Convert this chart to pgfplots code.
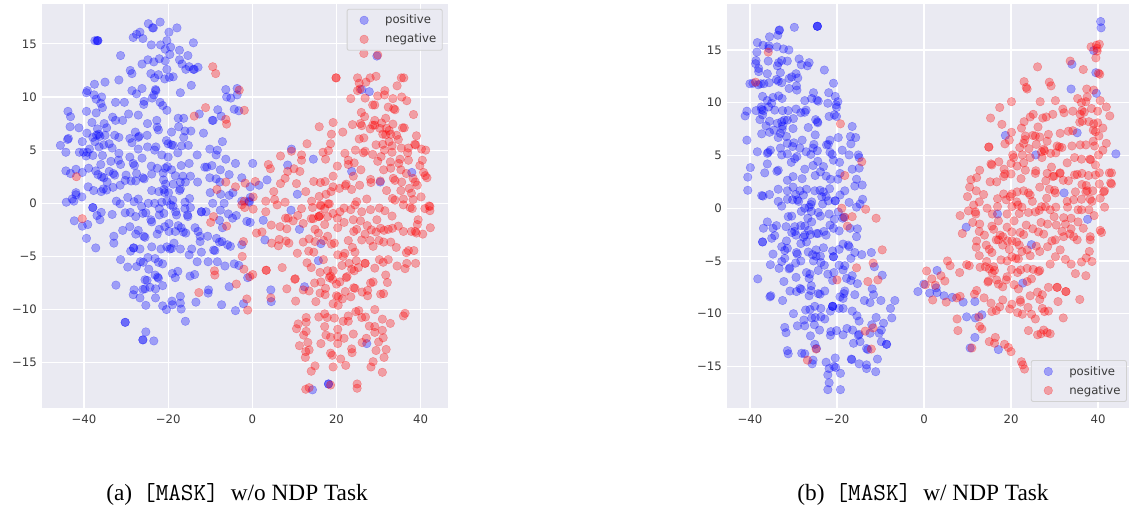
\documentclass[border=0pt]{standalone}
\usepackage{fontspec}
\setmainfont{DejaVu Sans}
\newfontfamily\capfont{Liberation Serif}
\usepackage{pgfplots}
\pgfplotsset{compat=1.18}
\definecolor{sbbg}{HTML}{EAEAF2}
\definecolor{sbtx}{HTML}{3A3A3A}
\pgfplotsset{
  sns/.style={
    scale only axis,
    anchor=south west,
    axis background/.style={fill=sbbg},
    axis line style={draw=none},
    grid=major,
    major grid style={white,line width=1.2pt},
    major tick length=0pt,
    tick style={draw=none},
    xtick={-40,-20,0,20,40},
    xticklabels={−40,−20,0,20,40},
    ytick={-15,-10,-5,0,5,10,15},
    yticklabels={−15,−10,−5,0,5,10,15},
    tick label style={font=\fontsize{11.7pt}{13pt}\selectfont,text=sbtx},
    xticklabel style={yshift=-3pt},
    yticklabel style={xshift=-2pt},
    legend cell align=left,
    legend image code/.code={\path[draw=none,fill=none] (0pt,-9.5pt) rectangle (32pt,9.5pt);
      \draw[mark repeat=2,mark phase=2,##1] plot coordinates {(4pt,0pt)(11pt,0pt)(18pt,0pt)};},
    legend style={font=\fontsize{11.7pt}{14pt}\selectfont,text=sbtx,draw=black!18,line width=.9pt,
      fill=sbbg,fill opacity=.8,text opacity=1,rounded corners=2pt,
      inner xsep=6pt,inner ysep=1.5pt,
      nodes={inner sep=0pt}},
  },
  bl/.style={only marks,mark=*,mark size=4.3pt,mark options={draw=blue,line width=.4pt,fill=blue,fill opacity=.32,draw opacity=.32}},
  rd/.style={only marks,mark=*,mark size=4.3pt,mark options={draw=red,line width=.4pt,fill=red,fill opacity=.32,draw opacity=.32}},
}
\begin{document}
\begin{tikzpicture}[x=1pt,y=1pt]
\useasboundingbox (0,0) rectangle (1129,507);
\begin{axis}[sns,at={(42.3pt,99pt)},width=405.7pt,height=404pt,
  xmin=-49.9,xmax=46.5,ymin=-19.26,ymax=18.75,
  legend style={at={(0.987,0.988)},anchor=north east}]
\addplot[bl] coordinates {
(-36.7,15.3)(-36.7,15.3)(-36.9,15.3)(-37.4,15.3)(-24.7,16.9)(-21.9,17.05)(-23.5,16.5)(-23.7,16.5)(-17.9,16.5)(-19.8,16.1)(-26.7,16.1)(-27.5,15.9)(-28.3,15.6)(-26,15.5)(-20.3,15.3)(-24,14.9)(-21.8,14.9)(-20.7,14.5)(-19.4,14.7)(-19.6,14)(-14,15.1)(-17.3,14.4)(-15.3,13.9)(-31.3,13.9)(-24.8,13.5)(-23.4,13.3)(-22.1,13.6)(-20.7,13.4)(-17.3,13.5)(-16.7,13.1)(-26.2,13.1)(-15,12.85)(-15.8,12.6)(-14,12.6)(-13.8,12.6)(-12.9,12.8)(-29,12.5)(-28.6,12.2)(-20.3,12.6)(-24.1,12.2)(-22.3,12.1)(-23.2,11.8)(-20.8,11.7)(-19.7,11.85)(-18.8,11.9)(-31.7,11.6)(-35,11.4)(-37.5,11.2)(-14.5,11.1)(-39.2,10.6)(-39.4,10.4)(-37.6,10.2)(-35.8,10)(-37.1,9.8)(-28.6,10.6)(-27.5,10.3)(-26.2,10.8)(-22.9,10.6)(-23,10.7)(-23.4,10.2)(-23.8,9.9)(-17.1,10.4)(-6.3,10.7)(-6.1,10)(-5.1,9.9)(-3.6,10.2)(-3.6,10.8)(-32.5,9.5)(-30.4,9.5)(-25.7,9.6)(-25.8,9.3)(-36,9.4)(-35.6,9)(-21.9,9.5)(-21.3,9.2)(-20.3,8.75)(-43.8,8.65)(-43.2,8.15)(-39.4,8.65)(-37.1,8.5)(-29.4,8.4)(-27.1,8.3)(-33.2,8.1)(-32.5,7.8)(-30.8,7.8)(-22.7,7.8)(-17.6,8)(-16.3,8)(-12.6,8.4)(-8.2,8.8)(-7.4,8.2)(-9.3,7.8)(-9.5,7.8)(-4.3,8.85)(-3.2,8.7)(-38.1,7.6)(-35.2,7.5)(-34.6,7.1)(-24.9,7.5)(-22.6,7.15)(-22.3,6.9)(-17.5,7.2)(-43.3,7.2)(-41.2,7.1)(-36.8,7)(-27.8,6.7)(-19.2,6.7)(-16,6.8)(-14.6,6.8)(-11.6,6.6)(-39.3,6.6)(-32.7,6.4)(-31.7,6.2)(-36.5,6.5)(-37,6.4)(-36.2,6.3)(-35,6.4)(-29.1,6.1)(-26.9,6.3)(-27.1,6.2)(-25,6.4)(-16.3,6.2)(-43.7,6.1)(-43.9,6)(-37.9,6.2)(-40.4,5.8)(-28.6,5.7)(-37.4,5.8)(-34,5.6)(-35.3,5.5)(-36.4,5.3)(-45.6,5.45)(-20.4,5.9)(-20,5.6)(-19.2,5.5)(-18.8,5.45)(-16.8,5.4)(-15.2,5.45)(-33.3,5.2)(-38.7,5.1)(-27.1,5.1)(-24.9,5.3)(-22.9,5.3)(-23.2,5)(-10.1,5.1)(-8.3,5)(-7.1,5.8)(-44.3,4.8)(-41.1,4.8)(-40.1,4.8)(-39.2,4.8)(-39.5,4.45)(-37.9,4.5)(-35.6,4.5)(-31.7,4.7)(-17.7,4.75)(-21.5,4.55)(-20,4.35)(-13.1,4.55)(-8.6,4.55)(-29.1,4.35)(-26.2,4.25)(-33.6,3.95)(-31.8,4.05)(-31.3,3.65)(-36,3.65)(-28.3,3.75)(-28,3.55)(-6.3,4.15)(-4,3.75)(-16.9,3.55)(-15,3.75)(-24,3.5)(-22.6,3.3)(-20.7,3.3)(-20.2,3.45)(-11.3,3.4)(-10.8,3.4)(-9.6,3.55)(-19.2,3.15)(-7.6,3.15)(-44.3,3.05)(-41.9,3.2)(-43.2,2.8)(-40.4,2.9)(-38.9,3.3)(-37.2,3.05)(-34,3)(-33,2.8)(-32.7,2.65)(-36.7,2.7)(-35.8,2.5)(-35.3,2.4)(-30,2.65)(-27.5,2.8)(-21.2,2.85)(-23.9,2.75)(-18.3,2.6)(-16.5,2.55)(-14.7,2.55)(-5.5,2.7)(-2.5,2.4)(-10.1,2.4)(-8.6,2.3)(-7.7,2)(-26,2.4)(-25.7,2.3)(-30.2,2.15)(-28.8,2.1)(-27.7,2.1)(-34.5,2)(-21.1,2.2)(-20.6,1.8)(-18.8,1.8)(-17.1,2)(-15.9,2)(-13,2)(-31.4,1.7)(-39,1.55)(-33.1,1.5)(-35.4,1.35)(-35.9,1.1)(-34.6,1.25)(-37.7,1.2)(-23.9,1.2)(-22.2,1.1)(-21,1.3)(-20.8,1)(-19.9,1)(-17.1,1.35)(-17.3,1.2)(-41.9,1)(-41.9,.8)(-40.5,.6)(-29.6,.55)(-27.1,.4)(-14.9,.45)(-10,1)(-7.5,.85)(-4.6,1)(-5.5,.75)(-42.8,.4)(-42.4,.2)(-44.2,.1)(-32.3,.2)(-31.4,-.05)(-28.1,.15)(-24.7,0)(-23.2,0)(-21.5,.1)(-20.3,.2)(-18.9,.3)(-16,.1)(-9.4,0)(-6.7,0)(-.5,.55)
(-37.9,-.4)(-37.9,-.4)(-36.9,-1.15)(-35.9,-.85)(-36.2,-1.55)(-42.3,-1.65)(-40.4,-2.15)(-39.1,-2)(-33.3,-1.05)(-30.2,-.9)(-29,-.85)(-27.7,-1.25)(-26.3,-.3)(-25.3,-.9)(-26,-.95)(-24.1,-1.55)(-23.9,-1.75)(-22.1,-1.1)(-21,-.95)(-22.1,-.5)(-19.4,-.15)(-18.8,-.3)(-18.2,-.8)(-18,-1.1)(-16,-.5)(-14.7,-.4)(-15.4,-1.1)(-15.3,-1.25)(-12.1,-.8)(-12.1,-.8)(-11,-.8)(-7.6,-.65)(-7.8,-1.6)(-7.1,-2.3)(-5.7,-1)(-4.7,-1.4)(-3.8,-1.15)(-1.3,-1.7)(-.5,-1.8)(-19.8,-1.9)(-20.8,-2.2)(-22.1,-2.45)(-22.6,-2.9)(-17.6,-2.1)(-16.9,-2.3)(-19.8,-2.65)(-18.3,-2.65)(-16.4,-2.7)(-15.8,-2.8)(-13.6,-2.3)(-12.9,-2.65)(-12.4,-3.1)(-12.4,-3.6)(-10.6,-3.1)(-8.5,-3.3)(-7.8,-3.65)(-7.2,-3.6)(-29.1,-2.2)(-30.8,-2.55)(-32.9,-3.1)(-32.9,-3.75)(-27.1,-2.55)(-27.7,-2.9)(-25.8,-3.1)(-25.5,-3.2)(-39.4,-3.3)(-37.2,-4.2)(-28.9,-4.5)(-28.2,-4.2)(-28.2,-4.2)(-26.7,-4.3)(-23.9,-4.1)(-21.7,-4.3)(-20.3,-4.1)(-19.6,-4.3)(-19.2,-4.25)(-18.6,-3.75)(-17.1,-4.3)(-14.4,-4.3)(-15,-4.85)(-12.1,-4.6)(-9.2,-4.4)(-8.9,-4.45)(-5.9,-3.9)(-5.2,-4.05)(-2.5,-3.9)(-31.3,-5.3)(-29.6,-6)(-27.5,-5.95)(-26.6,-5.5)(-25.9,-5.55)(-24.8,-5.1)(-24.6,-6.2)(-23.1,-5.2)(-22.3,-5.55)(-21.3,-5.7)(-13.1,-5.5)(-10.5,-5.5)(-8.3,-5.5)(-6.5,-5.9)(-4.3,-5.7)(-3.2,-5.85)(-19,-6.6)(-17.7,-6.4)(-18.3,-7)(-14.8,-6.85)(-13.7,-6.7)(-23.1,-6.75)(-22.5,-6.95)(-22.3,-7.05)(-25.5,-7.2)(-25,-7.25)(-1.1,-7)(-32.4,-7.7)(-21.3,-7.75)(-24.3,-7.9)(-25.5,-8.05)(-26,-8.1)(-23,-8.05)(-28.1,-8.15)(-28.3,-8.6)(-26.7,-8.9)(-23,-8.9)(-17.1,-8.75)(-10.4,-8.15)(-10.5,-8.45)(-5.5,-7.85)(-13.4,-9.3)(-19.1,-9.2)(-19,-9.55)(-17.1,-9.4)(-25.3,-9.6)(-21.3,-9.65)(-20.4,-10)(-16.9,-9.95)(-7.3,-9.55)(-2.1,-9.45)(-4,-10.1)(-15.9,-11.1)(-30.2,-11.2)(-30.2,-11.2)(-25.3,-12.1)(-26,-12.85)(-26,-12.85)(-23.4,-12.95)
(29.6,13.85)(26,10.7)(27.8,10.5)(9.3,5.1)(8.4,3.6)(14.5,4.15)(.1,3.75)(3.5,2.2)(1.6,1.7)(-.5,1.55)(10.7,.85)(23.6,3)(37.9,2.9)(30.4,2)(-2.5,.2)(-.8,.2)(-.7,.1)(9.2,-.65)(11.2,-2.45)(2.6,-1.6)(3,-3.45)(16.3,-3.8)(15.7,-5.4)(12.4,-7.85)(4.4,-8.15)(4.5,-9.25)(27.2,-13.2)(18.1,-17)(18.1,-17)(14.3,-17.55)
};
\addlegendentry{positive}
\addplot[rd] coordinates {
(26.5,14.1)(29.8,13.95)(19.9,11.8)(19.9,11.8)(25,11.8)(25.4,11.3)(27,11.4)(28,11.8)(29.4,11.95)(35.4,11.8)(36,11.8)(34.4,11.05)(25,10.6)(25.6,10.75)(31.5,10.6)(31.4,10.2)(29.8,10.1)(26.8,9.9)(23.4,9.85)(33.4,9.85)(35.5,10)(36.7,9.65)(28.6,9.25)(29.1,9.25)(32.3,9.05)(33.6,8.9)(33.9,8.8)(25.9,8.55)(26.7,8.15)(38.3,8.35)(31.7,8)(29.1,7.8)(30.7,7.55)(33.4,7.45)(19.2,7.6)(15.9,7.2)(23.8,7.4)(25.7,7.5)(26,7.3)(28.6,7.35)(29.1,7.35)(28,7)(30.3,7.05)(31.9,7.05)(35.7,7.1)(36.1,7.1)(18.8,6.5)(21.5,6.7)(31,6.5)(32.5,6.85)(31.7,6.45)(32.9,6.5)(34.3,6.4)(34.7,6)(39,6.35)(25.4,6.05)(26.5,6.15)(18.6,5.6)(13,5.6)(29.4,5.5)(31,5.55)(32.5,5.8)(33.2,5.4)(31.4,5)(33.2,4.8)(38.6,5.55)(38.8,5.5)(35.4,5.2)(37.1,5.2)(36.9,4.75)(40.2,5.1)(41.2,5)(9.3,4.9)(16.8,4.8)(18.1,4.95)(22,4.7)(24.5,5)(26.8,4.9)(26.4,4.75)(28.6,4.6)(6.7,4.45)(11.7,4.55)(11.7,4.05)(17.4,4.15)(22.8,4.05)(24.2,3.8)(22.8,3.65)(30.6,4.4)(29.8,3.95)(35.1,4.15)(34.8,3.75)(32.8,3.9)(40.4,4.05)(39.8,3.55)(37.1,4.05)(35.3,3.15)(3.8,3.65)(4.3,3.25)(9.9,3.25)(8.4,3)(11.3,3)(20.2,3.5)(25.8,3.15)(24,2.55)(19.2,2.55)(31.2,3.15)(32.9,3.3)(36.6,2.8)(40.7,2.9)(41.1,2.6)(41.5,2.4)(7.8,2.35)(6.7,1.85)(14.6,2.05)(16.2,1.95)(17.3,2.05)(10.5,1.85)(28.1,2.25)(28.2,1.95)(30.4,2.1)(33.5,2.35)(33.9,2.15)(35.5,2)(38.2,2.35)(39.2,1.7)(38.7,2)(.7,2.05)(-1.7,1.9)(.2,.6)(19.2,1.55)(18.7,1.1)(17.5,.85)(15.9,.65)(22.3,1.8)(22.1,1.65)(20.7,1.4)(23.6,1.3)(25.5,1.7)(27.2,.4)(24.8,.15)(5.1,1.1)(12.7,1.1)(31.9,1.2)(35.3,1.2)(37.3,1.4)(37.8,.95)(5.3,.35)(3.2,.2)(7.8,.1)(5.9,-.15)(14.1,.2)(16.3,-.25)(18.3,-.05)(33.3,.45)(33.9,.3)(35.9,.4)(40.1,.6)(38.2,.35)(42.2,-.3)(42,-.25)
(.2,-.55)(3.2,-.8)(11.7,-.5)(14.3,-.4)(16.2,-.15)(18,-.05)(17.2,-.5)(7.9,-1.4)(8.5,-1.4)(9.7,-1.65)(10.8,-1.15)(4.5,-2.05)(6.6,-2.2)(8.2,-2.4)(12.1,-1.9)(14,-1.45)(14.5,-1.45)(16.1,-1.15)(15.8,-1.25)(15.8,-1.25)(17.2,-2)(14.9,-2.45)(15.7,-2.8)(17.9,-1.25)(19.2,-.95)(20.8,-.8)(21.8,-.45)(20.2,-1.4)(21.8,-1.8)(20.3,-2.3)(24,-1.55)(25.7,-1.65)(23.4,-.6)(24.4,-.15)(26,-.8)(28.1,-.6)(30.2,-.45)(31.5,-.7)(33.2,-1.2)(29.6,-1.55)(27.3,-2.1)(24.8,-2.45)(24.1,-2.65)(28.3,-2.5)(29.4,-2.7)(30.5,-2.35)(31.3,-2.55)(32.3,-2.45)(33.3,-2.35)(34.7,-2.15)(26.8,-2.9)(26,-3.45)(28,-3.5)(30.1,-3.5)(31.2,-3.65)(32.9,-3.65)(34.2,-4.15)(35.9,-2.65)(37.8,-2.65)(39,-2.8)(38.7,-2.65)(40.5,-2.9)(42.3,-2.3)(39.2,-2)(39.4,-1.55)(41,-.5)(42.2,-.7)(37.5,-.4)(38,-.5)(35.9,-.15)(17.9,-3.1)(16.9,-3.5)(14.9,-3.6)(13.5,-3.35)(12.1,-3.65)(19.5,-3.75)(18.8,-3.85)(22.8,-3.5)(6.4,-3.4)(6.2,-4)(8,-3.55)(8.7,-3.75)(4.6,-3.75)(1,-2.8)(2.3,-2.7)(-2.1,-3.6)(-2.4,-5)(10.7,-4.7)(13.4,-4.5)(14.6,-4.6)(23.8,-4.15)(24.4,-4.6)(20.3,-4.85)(22,-4.7)(21.6,-5)(28.7,-4.05)(38.4,-4.45)(37.1,-4.45)(36.6,-4.65)(16.9,-5.3)(13,-5.6)(14,-6.05)(21.3,-5.85)(23,-5.65)(24.7,-5.4)(25.2,-6.05)(26.8,-5.65)(26.8,-5.65)(30.2,-5.3)(31.1,-5.55)(32.3,-5.3)(29.1,-6.1)(34.4,-5.9)(36.3,-6.15)(36.7,-5.65)(38.8,-5.65)(7.1,-6.05)(3.3,-6.3)(3.3,-6.3)(-2,-6.2)(.1,-6.7)(-.6,-6.9)(16.1,-6.5)(17.9,-6.35)(19.2,-6.35)(23.6,-6.2)(24.2,-6.35)(18.6,-6.85)(18.3,-7)(22.3,-7)(22.5,-6.9)(10.2,-7.1)(10.1,-7.15)(31.7,-6.75)(14.8,-7.5)(16.3,-7.4)(20,-7.6)(19.1,-7.15)(20.8,-7.4)(28.1,-7.5)(28.7,-7.4)(32.1,-7.45)(8.2,-8.05)(12.1,-8.15)(13.5,-8.25)(17.4,-8)(16.1,-8.45)(17.3,-8.6)(24.1,-7.95)(24.4,-8)(22.1,-8.3)(26.1,-8.35)(27.4,-8.2)(27.4,-8.7)(30.5,-8.55)(31.2,-8.5)(20,-8.7)(20.4,-8.8)(21.4,-9)(23.4,-8.8)(4.4,-8.9)(10.3,-9.2)(15.1,-9.25)(-1.3,-9)(-1.1,-10.05)(19.2,-9.45)(20.4,-9.6)(29.1,-10)(24.6,-10.2)(25.3,-10.1)(17.2,-10.4)(15.8,-10.7)(17.8,-10.75)(19.5,-10.8)(22.8,-10.6)(21.6,-11.1)(22.8,-11.1)(26,-10.75)(26.9,-10.7)(30.9,-10.9)(32.8,-11.3)(36.3,-10.35)(35.9,-10.6)(12.8,-10.75)(12.8,-11.2)(10.9,-11.35)(10.5,-11.8)(17.2,-11.6)(20.3,-11.85)(27.8,-11.55)(29.1,-11.6)(30.9,-11.95)(29.1,-12.15)(12.8,-12.05)(12.2,-12.4)(24,-12.3)(17.5,-12.4)(18.6,-12.6)(20.3,-12.55)(21.8,-12.7)(31.1,-12.65)(30,-13.05)(26.1,-13.1)(27.1,-12.7)(13.2,-13.1)(16.3,-13.2)(20.3,-13.2)(11.2,-13.4)(13.5,-13.8)(12.7,-13.95)(23.6,-13.7)(23.7,-14.05)(29.4,-13.85)(31.8,-13.75)(18.6,-14.1)(19,-14.3)(12.6,-14.5)(21,-14.65)(31.3,-14.5)(28.7,-14.9)(22.2,-15.25)(28.2,-15.4)(14.9,-15.3)(14,-15.8)(19.2,-15.4)(30.9,-15.9)(24.9,-17)(24.9,-17.4)(18.6,-17.1)(13.5,-17.35)(12.7,-17.5)
(-9.4,12.85)(-8.7,12.2)(-3.1,10.65)(-1.9,8.75)(-11.1,9)(-13.8,8.2)(-6.3,7.9)(-6.1,7.45)(-41.8,2.5)(-6.3,2)(-4,1.55)(-8.4,1.3)(-2.5,-.15)(-40.4,-1.45)(-9.2,-1.25)(-9.9,-1.8)(-6.1,-2.15)(-1.8,-.4)(-9,-6.35)(-8.9,-6.75)(-3.8,-7.6)(-12.7,-8.4)(-1.9,.2)
};
\addlegendentry{negative}
\end{axis}
\begin{axis}[sns,at={(727.3pt,99pt)},width=401.2pt,height=404pt,
  xmin=-45.2,xmax=47,ymin=-18.94,ymax=19.36,
  legend style={at={(0.996,0.015)},anchor=south east}]
\addplot[bl] coordinates {
(-24.5,17.25)(-24.5,17.25)(-24.5,17.25)(-29.8,17.15)(-33.2,16.9)(-33.3,16.85)(-33.6,16.4)(-35.5,16.25)(-38.3,15.7)(-37,15.45)(-35.65,15.4)(-35.65,15.15)(-33.8,15.3)(-32.3,15.1)(-31.05,15)(-38.4,14.8)(-38.6,14)(-38.7,13.7)(-35.8,13.95)(-32.7,14)(-31.4,13.95)(-33.4,13.8)(-33.7,13.5)(-28.7,14.15)(-28.2,13.6)(-26.8,13.5)(-26.4,13.8)(-22.9,13.1)(-38,13.25)(-38,12.95)(-36,12.75)(-33,12.85)(-29.4,12.75)(-30.4,12.45)(-29,12.35)(-31,12.3)(-20.8,11.85)(-33.9,12.2)(-33.5,12.05)(-32.7,11.9)(-35.6,11.9)(-40,11.8)(-39.3,11.85)(-38.1,11.7)(-37.5,11.8)(-36.8,11.8)(-29.3,11.6)(-31,11.35)(-29.2,11.2)(-25.4,10.95)(-21.9,10.95)(-37.1,10.6)(-34.7,10.5)(-33.4,10.65)(-32.6,10.4)(-36,10.2)(-35,9.95)(-27.4,10.2)(-25.8,10.4)(-24.6,10.25)(-24.3,10.15)(-22.1,9.95)(-20.4,10.6)(-19.8,10.1)(-20.2,9.8)(-20.1,9.55)(-40.7,9.2)(-41.1,8.75)(-38.6,9.25)(-37.4,9.6)(-37.3,9.35)(-36.9,9.25)(-37.1,8.85)(-35.7,9.6)(-34.3,9.3)(-32.5,9.25)(-31.2,9.25)(-29.4,9.4)(-28.3,9.05)(-27.1,9.3)(-27.4,9.1)(-21.8,8.7)(-20.6,8.85)(-20.1,8.7)(-30,8.5)(-37.7,8.4)(-35.5,8.25)(-24.9,8.4)(-24.5,8.2)(-24.4,8.1)(-33.7,8.05)(-32.7,8.2)(-32.1,8.35)(-31.4,8.35)(-36.3,7.8)(-32.5,7.8)(-32.6,7.5)(-30.1,7.55)(-26.6,7.65)(-34.5,7.4)(-35.5,7.2)(-16.5,7.75)(-40.7,6.45)(-37.3,7.05)(-33,7.1)(-33.5,6.7)(-31.6,6.8)(-25,6.95)(-19.7,6.7)(-21.6,6.45)(-16.9,6.8)(-15.7,6.7)(-28,6.45)(-16.8,6.1)(-29.9,6.2)(-31.4,6.15)(-25.3,6.05)(-22.4,6)(-22,6.05)(-33,5.7)(-30.2,5.85)(-28.5,5.7)(-25.5,5.7)(-18.8,5.5)(-24.5,5.45)(-27.1,5.35)(-38.3,5.35)(-35.8,5.3)(-35.3,5.5)(-36,5.2)(-21.6,5.3)(-21.1,5.1)(-32.7,5.05)(-31.4,5.15)(-26,5.1)(-17.2,5.05)(-15.1,5.05)(-14.9,4.8)(-29.2,4.9)(-29.7,4.7)(-30.5,4.35)(-20.8,4.55)(-19.4,4.35)(-36,4.2)(-24.4,4.45)(-25.5,4.05)(-39.9,3.85)(-23.1,3.95)(-27.4,3.7)(-33.5,3.6)(-33.8,3.5)(-36.6,3.35)(-16.5,3.7)(-14.9,3.8)(-23.8,3.45)(-25,3.1)(-19.3,3.3)(-40.5,2.95)(-30.1,3)(-31.4,2.65)(-28,2.8)(-22.5,3.05)(-21.5,2.75)(-19.8,2.75)(-15.5,2.75)(-15.9,2.1)(-14.2,2.2)(-40.5,1.7)(-33.5,1.8)(-31.4,1.65)(-30.1,2)(-28.5,1.65)(-27,1.8)(-25.1,1.65)(-23.9,1.7)(-21.7,1.85)(-37.3,1.2)(-37,1.15)(-35.5,1.3)(-29.5,1.3)(-27.7,1.25)(-23.1,1.55)(-23.5,1.1)(-22.5,1.1)(-18.2,1.65)(-19.3,1.25)(-14.1,.85)(-14.7,.4)(-31.4,.85)(-30.2,.8)(-29.1,.8)(-28.8,.65)(-33.5,.65)(-32.7,.2)(-20.4,.7)(-20.4,.7)(-17.2,.55)(-25.8,.6)(-26,.35)(-22,.7)(-23.3,.4)(-15.5,.1)
(-27.4,0)(-26.4,.1)(-25.9,-.3)(-24.3,-.4)(-23.8,-.75)(-31.2,-.8)(-30.4,-.75)(-28.2,-.3)(-26.7,-.95)(-25.8,-1.3)(-19.7,-.35)(-20.6,-1.05)(-21.8,-.55)(-18.4,-.85)(-18.7,-.95)(-36,-1.3)(-36.9,-1.9)(-34.7,-1.9)(-33.9,-1.65)(-31.7,-1.75)(-29.7,-1.75)(-28.3,-1.65)(-27.4,-1.7)(-21.6,-1.6)(-20.8,-1.9)(-19.5,-2.15)(-17,-1.9)(-15.3,-1.95)(-30.4,-2.3)(-29.4,-2.55)(-29.7,-2.2)(-26.5,-2.1)(-27.4,-2.55)(-27.7,-2.75)(-26.1,-2.5)(-24.7,-2.4)(-24.3,-2.4)(-23,-2.2)(-22.5,-2.55)(-34.3,-2.6)(-35,-2.85)(-37.1,-3.2)(-37.1,-3.2)(-15.5,-2.7)(-31.6,-3.1)(-32.7,-3.65)(-31.4,-3.8)(-32,-4)(-28.3,-3.35)(-27,-3.2)(-18.6,-3.4)(-17.4,-3.5)(-17.2,-3.65)(-23.1,-3.75)(-24.8,-3.95)(-19.5,-3.9)(-21,-4.05)(-15.9,-4.2)(-14.3,-4.4)(-12.1,-4.2)(-34.7,-4.35)(-29.3,-4.2)(-29.1,-4.35)(-26.6,-4.15)(-25.6,-4.4)(-24.8,-4.55)(-23.8,-4.55)(-20.8,-4.6)(-20.8,-4.6)(-16.8,-4.75)(-32,-4.75)(-32.7,-5.05)(-28.3,-5)(-29.5,-5.2)(-25.4,-5)(-23.7,-5.15)(-22.9,-5.4)(-35.3,-5.35)(-33.3,-5.7)(-30.8,-5.65)(-31,-5.75)(-19.5,-5.4)(-18.2,-5.45)(-18.6,-5.85)(-11.4,-5.55)(-27,-6.1)(-26.2,-6.25)(-24.3,-5.9)(-22.1,-6.25)(-20.7,-6.1)(-9.6,-6.35)(-38.2,-6.7)(-32.2,-6.95)(-29.4,-6.55)(-26.4,-6.65)(-21,-6.85)(-17.8,-6.65)(-16.5,-6.4)(-16.8,-6.85)(-15.3,-7.15)(-25.9,-7.35)(-30.8,-7.85)(-28.5,-7.6)(-28.2,-7.7)(-29.3,-7.9)(-26,-7.8)(-26.4,-8.3)(-22.8,-7.85)(-23.9,-8.15)(-24.3,-8.1)(-11.9,-7.65)(-11.6,-8.2)(-18.2,-7.85)(-18.4,-8.1)(-19.3,-8.4)(-18.6,-8.55)(-15.9,-8.2)(-35.2,-8.3)(-35.4,-8.4)(-32.5,-8.75)(-13.7,-8.75)(-12.4,-8.95)(-9.9,-8.75)(-6.7,-8.75)(-21,-9.3)(-21,-9.3)(-21,-9.3)(-27.2,-9.65)(-26.2,-9.6)(-25.1,-9.3)(-23.7,-9.5)(-21.5,-9.75)(-19.5,-9.5)(-18.6,-9.5)(-16.5,-9.75)(-15.4,-10.2)(-7.7,-9.5)(-30,-10)(-23.7,-10.3)(-25,-10.35)(-25.8,-10.4)(-22.8,-10.5)(-27.6,-10.6)(-11,-10.35)(-7.4,-10.4)(-14.9,-10.7)(-9.3,-10.9)(-12,-11.05)(-29.1,-11.15)(-27.4,-11.15)(-25.2,-11.05)(-24,-11.55)(-32,-11.3)(-31.7,-11.8)(-21.4,-11.7)(-20.1,-11.6)(-17.7,-11.4)(-16.4,-11.55)(-21.5,-12.05)(-18.6,-12)(-14.9,-11.95)(-15.1,-12.05)(-12.4,-11.85)(-10.3,-11.85)(-9.8,-11.55)(-26.1,-12.1)(-16.2,-12.8)(-14.7,-12.65)(-9.8,-12.65)(-8.6,-12.9)(-8.6,-12.9)(-25.1,-12.9)(-24.7,-13.3)(-13.2,-13.3)(-12.9,-13.4)(-31.4,-13.5)(-31.2,-13.8)(-28.1,-13.75)(-27.4,-13.8)(-25.5,-14.4)(-25.7,-14.75)(-20.4,-14.2)(-22.5,-14.6)(-16.7,-14.3)(-16.6,-14.35)(-10.7,-14.3)(-14.9,-14.75)(-13.2,-14.85)(-13.2,-15.2)(-20.7,-15)(-20.3,-15.1)(-21.8,-15.2)(-19.2,-15.65)(-11.1,-15.5)(-22.1,-15.8)(-21.8,-16.55)(-22.1,-17.2)(-19.2,-17.2)
(40.6,17.7)(40.7,17.1)(39,14.95)(34,13.65)(39.5,12.85)(33.8,11.3)(39.6,10.9)(35.2,7.15)(18.7,6.9)(44.1,5.15)(25.7,5.05)(32.2,1.45)(16.9,-.55)(37.6,-1.05)(9.7,-1.8)(24.7,-3.45)(22.7,-7.1)(3,-5.9)(-.05,-7.2)(-1.4,-7.9)(1.3,-8.05)(3,-8)(2.8,-7.55)(4.6,-8.3)(6.5,-8.45)(9,-8.9)(11.7,-8.85)(9.8,-10.3)(11.8,-10.4)(13.3,-10.1)(11.7,-12.25)(10.6,-13.25)(17.1,-13.4)
};
\addlegendentry{positive}
\addplot[rd] coordinates {
(38.4,15.3)(39.6,15.45)(40.3,15.55)(39.8,15.15)(39.8,14.9)(39.5,14.25)(33.6,13.95)(26.1,13.4)(36.6,13.15)(40.1,12.8)(40.4,12.7)(23,12)(28.8,11.95)(29.2,11.6)(23.5,11.45)(23.7,11.3)(37.4,11.3)(39,11.2)(37.5,10.55)(35.3,10.4)(20.1,10.1)(26.7,10.1)(30.2,10.2)(40.5,10.2)(36.2,10)(37.2,10.1)(41.9,9.6)(17.4,9.55)(31.9,9.4)(32.2,9.05)(34.2,9.2)(38.5,9.45)(36.3,9.25)(35.9,8.9)(36.8,9.1)(39.9,9.2)(42.7,8.75)(29.6,8.9)(25.1,8.9)(24.4,8.65)(28.1,8.65)(27.3,8.55)(15.3,8.55)(23,8.2)(35.8,8.15)(36.4,8.25)(37.9,8.2)(39,8)(39.9,8.1)(17.9,7.95)(22.4,7.6)(26.2,7.7)(41.1,7.6)(38.9,7.4)(39.4,7.25)(20.1,7.2)(33.2,7.3)(34.2,7.35)(31.3,7.1)(28.6,7)(23.3,6.85)(25,6.9)(25.6,6.85)(26.6,6.75)(40.2,6.85)(19.6,6.45)(18.6,6.1)(23.2,6.5)(22.9,6.15)(28.3,6.35)(25.8,6.05)(22,5.75)(24.1,5.65)(14.9,5.8)(14.9,5.8)(34,5.9)(35.9,6)(37.2,6)(38.9,6.35)(39.2,5.9)(30.6,5.9)(31.1,5.8)(31.7,5.75)(41.9,6.15)(41.1,5.5)(40.1,5.05)(27.5,5.6)(27.7,5.45)(27,5.35)(29.1,5.2)(30.3,5.25)(20.4,5.05)(20.6,4.8)(22.6,5.05)(24.4,4.8)(27.1,4.8)(34.6,4.8)(36.2,4.65)(38.1,4.65)(38.3,4.6)(17.2,4.4)(15.4,4.2)(15.6,4.1)(22.9,4.3)(20,4.25)(21.4,4)(32.9,4.3)(39.4,4.1)(29.3,3.9)(12.8,3.6)(18.4,3.7)(23.3,3.6)(25.7,3.55)(25.6,3.3)(18.6,3.25)(20,3.25)(18.3,3)(31.3,3.35)(31.2,3.3)(28.3,3.3)(29.6,3)(29.9,3.05)(34.6,3.15)(35.2,3.2)(36.3,3.3)(37.8,3.1)(39.4,3.15)(40.3,3.35)(42.6,3.35)(43.1,3.35)(12.1,2.9)(10.8,2.7)(22.3,2.8)(15.2,2.5)(16.7,2.5)(28,2.6)(32,2.65)(33.2,2.6)(36.3,2.25)(37.3,2.15)(37.5,1.65)(38.8,1.65)(40.3,2.3)(42.9,2.4)(43.1,2.3)(10.5,2)(26.6,2)(28.8,1.8)(12,1.65)(13.7,1.3)(10,1.1)(21.4,1.55)(22.9,1.65)(24,1.45)(24.4,1.25)(18.3,1.35)(20.2,1.35)(19.8,1.1)(16.9,.9)(30.2,1.45)(30,1.7)(34.8,1.55)(37.2,1.55)(41.5,1.65)(41.3,1.55)(38.2,.85)(38.6,.65)(40.5,.95)(36.2,.85)(34.4,.8)(32.9,.65)(24.9,.65)(18.9,.8)(12.7,.6)(11.4,.3)(28.2,.95)(27,.15)(21.3,.6)(21.6,.3)(14.5,0)(16.9,.15)(20.2,.15)(22.5,.1)(41.5,.1)
(8.3,-.7)(10.2,-.25)(11.9,-.55)(11.8,-.35)(15.7,-.55)(19.1,-.55)(21.9,-.5)(24,-.4)(25.6,-.35)(26.5,-.2)(27.9,.15)(29,-.15)(30.3,.1)(33,.1)(35.4,-.15)(37.9,-.15)(29.9,-.8)(32.1,-.9)(33.8,-.95)(36.2,-.15)(39.1,-.7)(11.2,-1.35)(12.8,-1.5)(8.8,-2.4)(12.7,-2.2)(13.9,-2.55)(15.6,-1.7)(16,-2)(17.1,-1.2)(20.7,-1.2)(19.1,-1.8)(23.5,-1.6)(25,-1.95)(26.9,-1.35)(28.4,-1.5)(30.4,-1.6)(32.5,-1.5)(33.8,-1.95)(35.4,-1.3)(36.6,-1.9)(40.5,-2.1)(40.8,-2.3)(27.5,-2.45)(26.3,-2.25)(20.2,-2.25)(22.1,-2.3)(22.9,-2.5)(17.5,-2.55)(17.1,-3)(18.1,-2.7)(31.7,-2.2)(33.5,-2.45)(32.1,-2.7)(34.4,-2.7)(35.2,-3)(38.2,-2.7)(38.2,-3)(12.1,-3.1)(12,-3.7)(14.3,-3.5)(15,-3.9)(15.6,-4.2)(16.6,-3)(18.1,-3.5)(19.6,-3.9)(20.2,-4.6)(19.2,-3.1)(21.3,-3.2)(21.9,-3.5)(21.7,-4.8)(20.2,-3.1)(23.7,-3.95)(22.5,-4.1)(21.1,-4.75)(24.4,-4.5)(25.8,-3.6)(26.6,-4.1)(28.4,-3.65)(29.4,-3.1)(30.2,-3)(31.3,-3.95)(30.2,-4.6)(32.5,-4.85)(29,-5.3)(33.8,-5.3)(36.2,-5.1)(37.3,-4.7)(38,-4.1)(38.6,-5.05)(12.7,-4.5)(17.7,-4.9)(19.1,-5)(5.4,-5)(6,-5.45)(9.8,-5.35)(10.4,-5.45)(14.4,-5.05)(14.1,-5.55)(12.9,-5.6)(16,-5.55)(15,-5.75)(20.1,-5.8)(23.7,-5.7)(25.1,-5.8)(26.3,-6)(26.6,-5.9)(.6,-5.95)(8.2,-6.1)(15.7,-6.15)(16.2,-5.9)(22.2,-5.85)(21.5,-6.1)(3.9,-6.4)(4.8,-6.9)(1.8,-6.7)(34.8,-6.2)(37.2,-6.4)(19.1,-6.5)(18.9,-6.8)(24.7,-6.7)(14.8,-6.9)(14.7,-7)(16.7,-6.8)(17.1,-7.2)(18.1,-7.45)(20.7,-7.25)(21.7,-7.65)(23.7,-6.95)(28.6,-7.5)(30.6,-7.5)(30.6,-7.5)(32.6,-7.9)(32.6,-7.9)(2.6,-7.3)(.3,-7.25)(12.1,-7.8)(11.6,-8.15)(26.1,-7.95)(27.2,-8.2)(26.6,-8.65)(24.4,-8.3)(22.1,-8.7)(22.2,-8.9)(13.8,-8.5)(18.1,-8.7)(35.8,-8.65)(30.8,-8.85)(2,-8.7)(5.1,-8.9)(8.3,-8.35)(7.5,-8.5)(15.4,-9)(20.2,-9.1)(17.4,-9.35)(16.6,-9.7)(15.6,-9.8)(19.7,-9.55)(23.9,-9.4)(27.2,-9.5)(21.5,-9.9)(22.6,-10.05)(24.7,-10.05)(27.7,-9.8)(28.6,-9.75)(25.6,-10.5)(32,-10.4)(7.6,-10.5)(12.6,-10.3)(12.8,-11.2)(13.3,-11.45)(7.8,-11.6)(24,-11.6)(26.1,-12)(27.5,-11.55)(26.9,-11.9)(28.3,-11.8)(29,-11.9)(16.4,-12.25)(15,-12.65)(16.2,-12.8)(18.5,-12.9)(19.4,-13.2)(20,-13.6)(11,-13.25)(22.4,-14.55)(22.7,-14.85)(23.1,-15.25)
(-35.8,14.8)(-38.7,11.95)(-19.2,8)(-14.3,4.4)(-18.2,3.1)(-18.9,0)(-13.4,-.1)(-18.2,-.85)(-16.5,-.8)(-11,-.95)(-17.6,-1.7)(-9.6,-3.95)(-11.7,-5.2)(-15.5,-5.65)(-20,-6.8)(-12.9,-6.95)(-10.6,-6.8)(-13.5,-11.65)(-11.7,-11.35)(-12.1,-13.35)(-24.8,-13.35)(-26.8,-14.4)
};
\addlegendentry{negative}
\end{axis}
\node[anchor=base,font=\fontsize{23.3pt}{26pt}\selectfont\capfont] at (237pt,7pt) {(a)\hspace{11pt}{\ttfamily\fontsize{24.5pt}{26pt}\selectfont[MASK]}\hspace{12pt}w/o NDP Task};
\node[anchor=base,font=\fontsize{23.3pt}{26pt}\selectfont\capfont] at (923pt,7pt) {(b)\hspace{11pt}{\ttfamily\fontsize{24.5pt}{26pt}\selectfont[MASK]}\hspace{12pt}w/ NDP Task};
\end{tikzpicture}
\end{document}
